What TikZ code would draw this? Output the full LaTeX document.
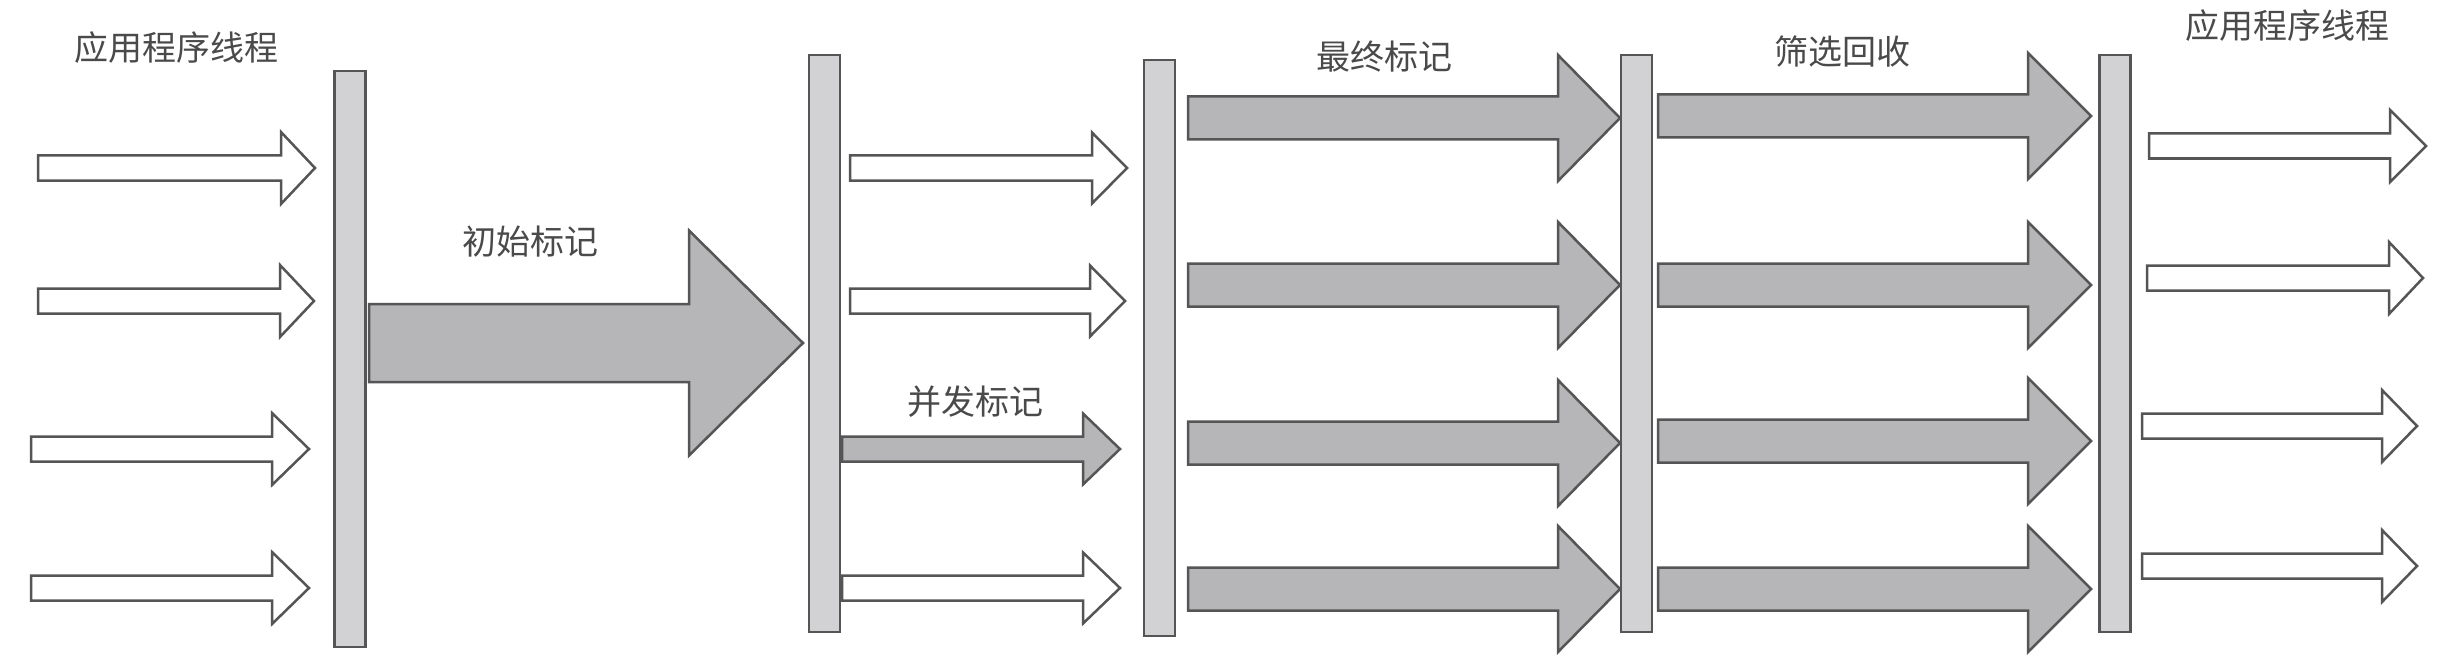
\documentclass[tikz,border=0pt]{standalone}
\usepackage{fontspec}
\newfontfamily\cjk{Noto Sans CJK SC}
\definecolor{edge}{HTML}{555555}
\definecolor{barfill}{HTML}{D2D2D4}
\definecolor{arrfill}{HTML}{B6B6B8}
\definecolor{txt}{HTML}{4A4A4A}
\tikzset{
  barbox/.style={draw=edge, fill=barfill, line width=2.5pt, minimum width=31pt, inner sep=0pt, outer sep=0pt},
  whitearrow/.style={draw=edge, fill=white, line width=2.5pt, line join=miter},
  grayarrow/.style={draw=edge, fill=arrfill, line width=2.5pt, line join=miter},
  label/.style={font=\cjk\fontsize{34}{36}\selectfont, text=txt, inner sep=0pt}
}
% #1 style, #2 x start, #3 x head start, #4 x tip, #5 y centre, #6 shaft half, #7 head half
\newcommand\blockarrow[7]{%
  \draw[#1] (#2,#5-#6) -- (#3,#5-#6) -- (#3,#5-#7) -- (#4,#5) -- (#3,#5+#7) -- (#3,#5+#6) -- (#2,#5+#6) -- cycle;}
\begin{document}
\begin{tikzpicture}[x=1pt,y=-1pt]
\useasboundingbox[fill=white] (0,0) rectangle (2460,658);
% bars
\node[barbox, minimum height=576pt] (bar1) at (350,359) {};
\node[barbox, minimum height=577pt] (bar2) at (824.5,343.5) {};
\node[barbox, minimum height=576pt] (bar3) at (1159.5,348) {};
\node[barbox, minimum height=577pt] (bar4) at (1636.5,343.5) {};
\node[barbox, minimum height=577pt] (bar5) at (2115,343.5) {};
% left application threads
\blockarrow{whitearrow}{38}{281}{315}{168}{12.5}{36}
\blockarrow{whitearrow}{38}{280}{314}{301}{12.5}{36}
\blockarrow{whitearrow}{31}{272}{309}{449}{12.5}{36}
\blockarrow{whitearrow}{31}{272}{309}{588}{12.5}{36}
% initial mark
\blockarrow{grayarrow}{369}{689}{803}{343}{39}{112.5}
% after bar 2
\blockarrow{whitearrow}{850}{1092}{1127}{168}{12.5}{35.5}
\blockarrow{whitearrow}{850}{1090}{1125}{301}{12.5}{35.5}
\blockarrow{grayarrow}{842}{1083}{1120}{449}{12.5}{35.5}
\blockarrow{whitearrow}{842}{1083}{1120}{588}{12.5}{35.5}
% final mark
\blockarrow{grayarrow}{1188}{1558}{1620}{118}{21.5}{63}
\blockarrow{grayarrow}{1188}{1558}{1620}{285}{21.5}{63}
\blockarrow{grayarrow}{1188}{1558}{1620}{443}{21.5}{63}
\blockarrow{grayarrow}{1188}{1558}{1620}{589}{21.5}{63}
% cleanup
\blockarrow{grayarrow}{1658}{2028}{2091}{116}{21.5}{63}
\blockarrow{grayarrow}{1658}{2028}{2091}{285}{21.5}{63}
\blockarrow{grayarrow}{1658}{2028}{2091}{441}{21.5}{63}
\blockarrow{grayarrow}{1658}{2028}{2091}{589}{21.5}{63}
% right application threads
\blockarrow{whitearrow}{2149}{2390}{2426}{146}{12.5}{36}
\blockarrow{whitearrow}{2147}{2389}{2423}{278}{12.5}{36}
\blockarrow{whitearrow}{2142}{2382}{2417}{426}{12.5}{36}
\blockarrow{whitearrow}{2142}{2382}{2417}{566}{12.5}{36}
% labels
\node[label] (t1) at (176,48) {应用程序线程};
\node[label] (t2) at (530,242) {初始标记};
\node[label] (t3) at (975,402) {并发标记};
\node[label] (t4) at (1384,57) {最终标记};
\node[label] (t5) at (1842,52) {筛选回收};
\node[label] (t6) at (2287,26) {应用程序线程};
\end{tikzpicture}
\end{document}
